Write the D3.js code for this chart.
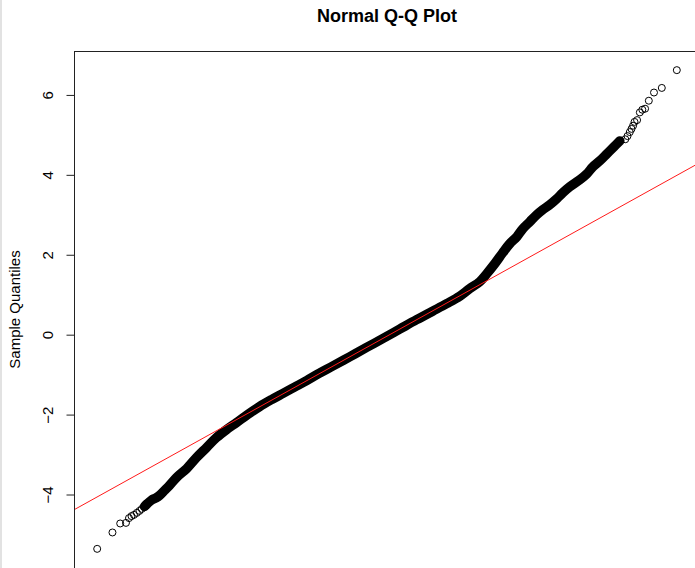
<!DOCTYPE html>
<html>
<head>
<meta charset="utf-8">
<script src="https://cdn.jsdelivr.net/npm/d3@7"></script>
<style>
  html, body { margin: 0; padding: 0; background: #fff; }
  svg { display: block; font-family: "Liberation Sans", Arial, Helvetica, sans-serif; }
</style>
</head>
<body>
<script>
// ---- Data ----
// Lower tail: individual points (theoretical quantile, sample quantile)
const lowTailX = [-4.420, -4.187, -4.069, -3.981, -3.935, -3.897, -3.859, -3.816, -3.775, -3.740];
const lowTailY = [-5.36, -4.95, -4.725, -4.71, -4.59, -4.54, -4.51, -4.46, -4.41, -4.36];

// Dense central band of points
const bandX = [-3.698, -3.653, -3.592, -3.531, -3.470, -3.394, -3.318, -3.211, -3.055, -2.905,
               -2.752, -2.600, -2.447, -2.295, -2.127, -1.944, -1.761, -1.593, -1.410, -1.226,
               -1.029, -0.830, -0.570, -0.311, -0.066, 0.193, 0.452, 0.696, 0.910, 1.109,
               1.261, 1.414, 1.521, 1.643, 1.765, 1.872, 1.979, 2.070, 2.177, 2.284,
               2.375, 2.482, 2.589, 2.681, 2.787, 2.940, 3.047, 3.139, 3.246, 3.353,
               3.460, 3.551];
const bandY = [-4.30, -4.225, -4.14, -4.09, -4.025, -3.90, -3.775, -3.575, -3.35, -3.075,
               -2.825, -2.575, -2.375, -2.20, -2.00, -1.80, -1.625, -1.475, -1.3125, -1.15,
               -0.9625, -0.7875, -0.555, -0.32, -0.10, 0.1375, 0.375, 0.5875, 0.775, 0.9625,
               1.15, 1.325, 1.525, 1.775, 2.05, 2.275, 2.45, 2.65, 2.825, 3.00,
               3.125, 3.25, 3.40, 3.55, 3.70, 3.875, 4.025, 4.20, 4.35, 4.525,
               4.70, 4.85];

// Upper tail: individual points
const highTailX = [3.634, 3.668, 3.703, 3.729, 3.753, 3.775, 3.814, 3.856, 3.894, 3.936, 3.993, 4.072, 4.191, 4.420];
const highTailY = [4.89, 4.97, 5.07, 5.15, 5.23, 5.325, 5.37, 5.5625, 5.63, 5.655, 5.855, 6.06, 6.175, 6.62];

// qqline: through the first and third quartiles
const quartileTheo = [-0.6745, 0.6745];
const quartileSample = [-0.651, 0.577];

const yTicks = [-4, -2, 0, 2, 4, 6];
const titleText = "Normal Q-Q Plot";
const yLabelText = "Sample Quantiles";

// ---- Layout ----
const W = 695, H = 568;
const plot = { left: 74, right: 700, top: 51, bottom: 568 };

const svg = d3.select("body").append("svg").attr("width", W).attr("height", H);

// light gray strip on the left edge
svg.append("rect").attr("x", 0).attr("y", 0).attr("width", 2).attr("height", H).attr("fill", "#e2e2e2");

const allX = lowTailX.concat(bandX, highTailX);
const allY = lowTailY.concat(bandY, highTailY);
const xe = d3.extent(allX), ye = d3.extent(allY);
const xp = (xe[1] - xe[0]) * 0.04, yp = (ye[1] - ye[0]) * 0.04;

const x = d3.scaleLinear().domain([xe[0] - xp, xe[1] + xp]).range([plot.left, plot.right]);
const y = d3.scaleLinear().domain([ye[0] - yp, ye[1] + yp]).range([plot.bottom, plot.top]);

svg.append("defs").append("clipPath").attr("id", "clip")
  .append("rect").attr("x", plot.left).attr("y", plot.top)
  .attr("width", plot.right - plot.left).attr("height", plot.bottom - plot.top);

const g = svg.append("g").attr("clip-path", "url(#clip)");

// dense band
const line = d3.line().x((d, i) => x(bandX[i])).y((d, i) => y(bandY[i])).curve(d3.curveCatmullRom);
g.append("path").datum(bandX).attr("d", line)
  .attr("fill", "none").attr("stroke", "#000").attr("stroke-width", 9.5)
  .attr("stroke-linecap", "round").attr("stroke-linejoin", "round");

// points
const pts = allX.map((v, i) => ({ x: v, y: allY[i] }));
g.selectAll("circle.pt").data(pts).enter().append("circle")
  .attr("class", "pt")
  .attr("cx", d => x(d.x)).attr("cy", d => y(d.y)).attr("r", 3.5)
  .attr("fill", "none").attr("stroke", "#000").attr("stroke-width", 1);

// qqline
const slope = (quartileSample[1] - quartileSample[0]) / (quartileTheo[1] - quartileTheo[0]);
const intercept = quartileSample[0] - slope * quartileTheo[0];
const xd = x.domain();
g.append("line")
  .attr("x1", x(xd[0])).attr("y1", y(intercept + slope * xd[0]))
  .attr("x2", x(xd[1])).attr("y2", y(intercept + slope * xd[1]))
  .attr("stroke", "#ff1a1a").attr("stroke-width", 1);

// box
svg.append("rect").attr("x", plot.left + 0.5).attr("y", plot.top + 0.5)
  .attr("width", plot.right - plot.left).attr("height", plot.bottom - plot.top + 5)
  .attr("fill", "none").attr("stroke", "#222").attr("stroke-width", 1);

// y axis
const axis = d3.axisLeft(y).tickValues(yTicks).tickSize(8).tickFormat(d3.format("d"));
const ag = svg.append("g").attr("transform", `translate(${plot.left + 0.5},0)`).call(axis);
ag.select(".domain").remove();
ag.selectAll(".tick line").attr("stroke", "#222");
ag.selectAll(".tick text")
  .attr("x", null).attr("dy", null)
  .attr("transform", "translate(-27,0) rotate(-90)")
  .attr("text-anchor", "middle")
  .attr("dy", "0.35em")
  .attr("font-size", 15)
  .attr("font-family", "Liberation Sans, Arial, sans-serif")
  .attr("fill", "#000");

// y label
svg.append("text")
  .attr("transform", `translate(15,${(plot.top + plot.bottom) / 2}) rotate(-90)`)
  .attr("text-anchor", "middle").attr("dy", "0.35em")
  .attr("font-size", 15).text(yLabelText);

// title
svg.append("text")
  .attr("x", (plot.left + plot.right) / 2).attr("y", 21.5)
  .attr("text-anchor", "middle").attr("font-size", 18).attr("font-weight", "bold")
  .text(titleText);
</script>
</body>
</html>
